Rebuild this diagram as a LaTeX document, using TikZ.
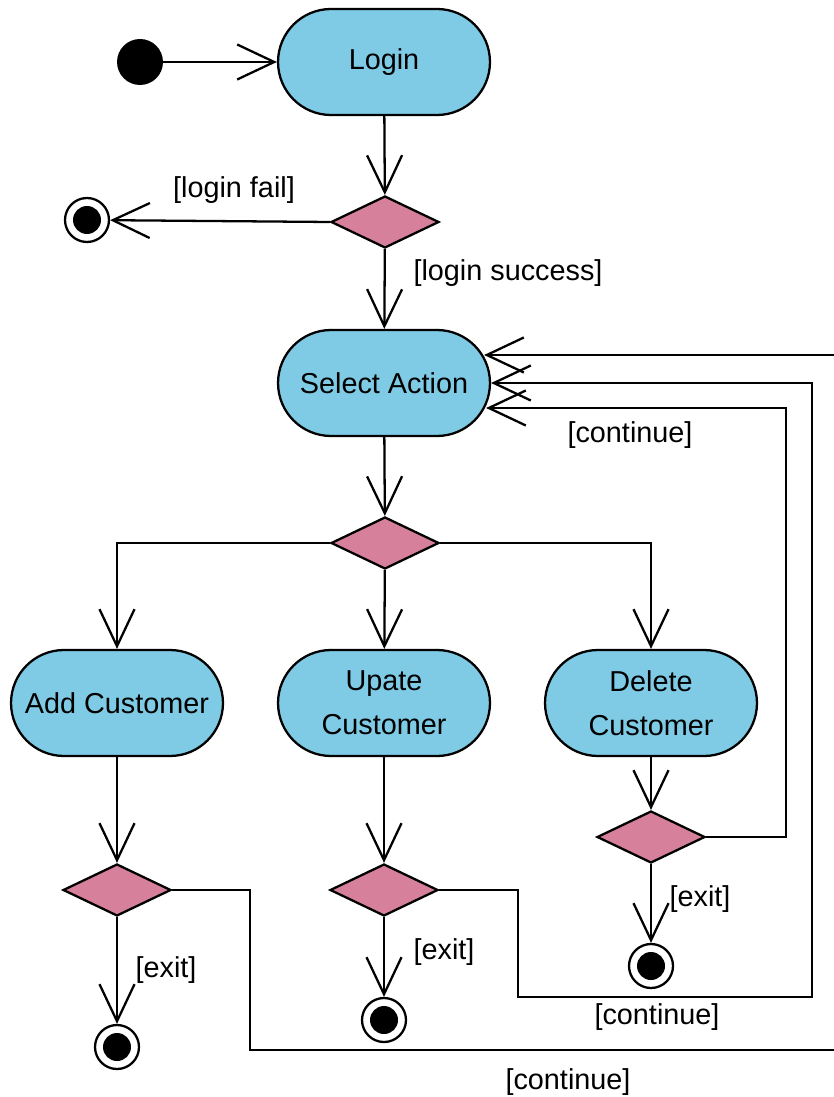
\documentclass[tikz,border=0pt]{standalone}
\usepackage{fontspec}
\setmainfont{Liberation Sans}
\usetikzlibrary{arrows.meta,shapes.geometric,calc}
\definecolor{actblue}{RGB}{127,203,229}
\definecolor{decpink}{RGB}{214,128,156}
\begin{document}
\begin{tikzpicture}[x=0.02cm,y=-0.02cm,
  every node/.style={font=\fontsize{16.4}{25}\selectfont},
  act/.style={draw,fill=actblue,line width=1.3pt,rounded corners=1.06cm,minimum width=4.24cm,minimum height=2.12cm,align=center,inner sep=0pt},
  dec/.style={draw,fill=decpink,diamond,aspect=2,minimum width=2.16cm,minimum height=1.04cm,inner sep=0pt,line width=1.3pt},
  startnode/.style={circle,fill=black,minimum size=0.92cm,inner sep=0pt},
  endnode/.style={circle,draw,fill=white,line width=1.3pt,minimum size=0.88cm,inner sep=0pt,path picture={\fill[black] (path picture bounding box.center) circle (0.28cm);}},
  flow/.style={line width=1.3pt,-{Straight Barb[length=0.74cm,width=0.7cm,line width=1.3pt]}},
  lbl/.style={inner sep=0pt}
]
\useasboundingbox (0,0) rectangle (833,1097);

% nodes
\node[startnode] (init) at (140,62) {};
\node[act] (login) at (384,62) {Login};
\node[dec] (d1) at (385,222) {};
\node[endnode] (f0) at (87,220) {};
\node[act] (sel) at (384,383) {Select Action};
\node[dec] (d2) at (385,543) {};
\node[act] (add) at (117,703) {Add Customer};
\node[act] (upd) at (384,703) {Upate\\Customer};
\node[act] (del) at (651,703) {Delete\\Customer};
\node[dec] (ad) at (117,890) {};
\node[dec] (ud) at (384,890) {};
\node[dec] (dd) at (651,837) {};
\node[endnode] (fa) at (117,1047) {};
\node[endnode] (fu) at (384,1020) {};
\node[endnode] (fd) at (651,966) {};

% labels
\node[lbl] (lfail) at (234,190) {[login fail]};
\node[lbl] (lsucc) at (508,273) {[login success]};
\node[lbl] (lc1) at (630,435) {[continue]};
\node[lbl] (lc2) at (657,1017) {[continue]};
\node[lbl] (lc3) at (568,1082) {[continue]};
\node[lbl] (le1) at (700,899) {[exit]};
\node[lbl] (le2) at (444,952) {[exit]};
\node[lbl] (le3) at (166,970) {[exit]};

% loop corner coordinates
\coordinate (cd1) at (786,837);
\coordinate (cd2) at (786,408);
\coordinate (cu1) at (518,890);
\coordinate (cu2) at (518,997);
\coordinate (cu3) at (812,997);
\coordinate (cu4) at (812,383);
\coordinate (ca1) at (250,890);
\coordinate (ca2) at (250,1050);
\coordinate (ca3) at (838,1050);
\coordinate (ca4) at (838,355);
\coordinate (b1) at (117,543);
\coordinate (b2) at (651,543);

% connectors
\draw[flow] (init) -- (login);
\draw[flow] (login) -- (d1);
\draw[flow] (d1.west) -- (f0);
\draw[flow] (d1) -- (sel);
\draw[flow] (sel) -- (d2);
\draw[flow] (d2.west) -- (b1) -- (add);
\draw[flow] (d2) -- (upd);
\draw[flow] (d2.east) -- (b2) -- (del);
\draw[flow] (add) -- (ad);
\draw[flow] (upd) -- (ud);
\draw[flow] (del) -- (dd);
\draw[flow] (ad) -- (fa);
\draw[flow] (ud) -- (fu);
\draw[flow] (dd) -- (fd);
\draw[flow] (dd.east) -- (cd1) -- (cd2) -- ($(sel.east)+(-5,25)$);
\draw[flow] (ud.east) -- (cu1) -- (cu2) -- (cu3) -- (cu4) -- (sel.east);
\draw[flow] (ad.east) -- (ca1) -- (ca2) -- (ca3) -- (ca4) -- ($(sel.east)+(-7,-28)$);
\end{tikzpicture}
\end{document}
